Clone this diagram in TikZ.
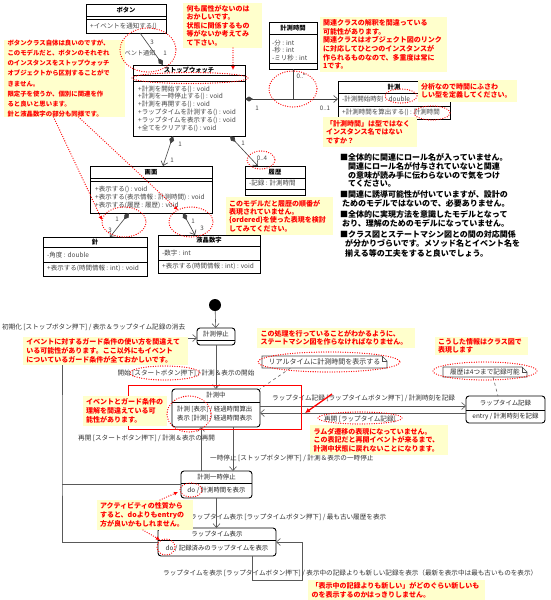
\documentclass[tikz,border=0pt]{standalone}
\usepackage{fontspec}
\setmainfont{Noto Sans CJK JP}
\usetikzlibrary{arrows.meta,calc}
\definecolor{noteY}{RGB}{255,255,204}
\definecolor{txtgray}{RGB}{70,70,70}
\newcommand{\fsz}[2]{\fontsize{#1}{#2}\selectfont}
\tikzset{
 cls/.style={draw=black, line width=0.9pt, fill=white, inner sep=0pt, outer sep=0pt, anchor=north west},
 cdiv/.style={draw=black, line width=0.5pt},
 ctitle/.style={font=\bfseries\fsz{6.3}{7}, inner sep=0pt},
 ctext/.style={font=\fsz{6.5}{7}, text=txtgray, inner sep=0pt, anchor=west},
 mult/.style={font=\fsz{6.2}{7}, text=txtgray, inner sep=0pt},
 assoc/.style={draw=black!75, line width=0.6pt},
 dia/.style={{Diamond[length=8pt,width=5pt]}-{Straight Barb[length=4pt,width=7pt]}},
 note/.style={fill=noteY, text=red, font=\bfseries\fsz{7}{8.4}, anchor=north west, inner sep=0pt, outer sep=0pt, align=left},
 blk/.style={font=\bfseries\fsz{8}{9}, text=black, inner sep=0pt, anchor=west},
 redell/.style={draw=red, line width=1.3pt, dash pattern=on 0pt off 2.4pt, line cap=round},
 redarr/.style={draw=red, line width=1.3pt, dash pattern=on 0pt off 2.4pt, line cap=round, -{Latex[length=4pt,width=4pt]}},
 state/.style={draw=black, line width=0.9pt, rounded corners=3pt, fill=white, inner sep=0pt, outer sep=0pt, anchor=north west},
 stext/.style={font=\fsz{6.4}{7}, text=black!85, inner sep=0pt},
 trans/.style={draw=black!65, line width=0.6pt, -{Straight Barb[length=4pt,width=7pt]}},
 tlabel/.style={font=\fsz{6.6}{7}, text=black!80, inner sep=0pt, anchor=west},
 fnote/.style={fill=white, inner sep=0pt, outer sep=0pt, anchor=north west, font=\fsz{7}{7.5}, text=black!80},
 fold/.style={draw=black!70, line width=0.6pt},
}
\begin{document}
\begin{tikzpicture}[x=1pt,y=-1pt]
\useasboundingbox (0,0) rectangle (550,600);
\fill[white] (0,0) rectangle (550,600);

% ===== class diagram =====
% ボタン
\node[cls, minimum width=80pt, minimum height=29pt] (bt) at (86,4) {};
\node[ctitle] (btt) at (126,10.5) {ボタン};
\draw[cdiv] (86,16) -- (166,16);
\draw[cdiv] (86,19) -- (166,19);
\node[ctext] (bto) at (90,26.5) {+イベントを通知する()};

% ストップウォッチ
\node[cls, minimum width=112pt, minimum height=71pt] (sw) at (133,65) {};
\node[ctitle] (swt) at (189,70.5) {ストップウォッチ};
\draw[cdiv] (133,75.5) -- (245,75.5);
\draw[cdiv] (133,81) -- (245,81);
\node[ctext] (swo1) at (138,89) {+計測を開始する() : void};
\node[ctext] (swo2) at (138,96.8) {+計測を一時停止する() : void};
\node[ctext] (swo3) at (138,104.5) {+計測を再開する() : void};
\node[ctext] (swo4) at (138,112.3) {+ラップタイムを計測する() : void};
\node[ctext] (swo5) at (138,120) {+ラップタイムを表示する() : void};
\node[ctext] (swo6) at (138,128) {+全てをクリアする() : void};

% 計測時間
\node[cls, minimum width=48pt, minimum height=47pt] (kt) at (269,22) {};
\node[ctitle] (ktt) at (293,28) {計測時間};
\draw[cdiv] (269,34) -- (317,34);
\node[ctext] (kta1) at (272,43) {-分 : int};
\node[ctext] (kta2) at (272,50.5) {-秒 : int};
\node[ctext] (kta3) at (272,58) {-ミリ秒 : int};
\draw[cdiv] (269,63) -- (317,63);

% 計測
\node[cls, minimum width=112pt, minimum height=38pt] (km) at (338,81) {};
\node[ctitle] (kmt) at (394,87.5) {計測};
\draw[cdiv] (338,93) -- (450,93);
\node[ctext] (kma) at (342,99.5) {-計測開始時刻 : double};
\draw[cdiv] (338,106) -- (450,106);
\node[ctext] (kmo) at (342,112.5) {+計測時間を算出する() : 計測時間};

% 画面
\node[cls, minimum width=122pt, minimum height=47pt] (gm) at (90,166) {};
\node[ctitle] (gmt) at (151,172) {画面};
\draw[cdiv] (90,178) -- (212,178);
\draw[cdiv] (90,181) -- (212,181);
\node[ctext] (gmo1) at (95,189) {+表示する() : void};
\node[ctext] (gmo2) at (95,197) {+表示する(表示情報 : 計測時間) : void};
\node[ctext] (gmo3) at (95,205) {+表示する(履歴 : 履歴) : void};

% 履歴
\node[cls, minimum width=60pt, minimum height=29pt] (rk) at (245,166) {};
\node[ctitle] (rkt) at (275,172) {履歴};
\draw[cdiv] (245,178) -- (305,178);
\node[ctext] (rka) at (249,183.5) {-記録 : 計測時間};
\draw[cdiv] (245,189) -- (305,189);

% 針
\node[cls, minimum width=104pt, minimum height=39pt] (hr) at (43,237) {};
\node[ctitle] (hrt) at (95,242) {針};
\draw[cdiv] (43,247) -- (147,247);
\node[ctext] (hra) at (47,255.5) {-角度 : double};
\draw[cdiv] (43,262) -- (147,262);
\node[ctext] (hro) at (47,268.5) {+表示する(時間情報 : int) : void};

% 液晶数字
\node[cls, minimum width=102pt, minimum height=38pt] (lc) at (158,235) {};
\node[ctitle] (lct) at (209,240.5) {液晶数字};
\draw[cdiv] (158,246) -- (260,246);
\node[ctext] (lca) at (162,253.5) {-数字 : int};
\draw[cdiv] (158,260) -- (260,260);
\node[ctext] (lco) at (162,266.5) {+表示する(時間情報 : int) : void};

% associations
\draw[assoc, -{Diamond[length=8pt,width=5pt]}] ([xshift=14pt]bt.south) -- ([xshift=-26pt]sw.north);
\node[mult] (m1a) at (152,42) {3};
\node[mult] (m1b) at (165,53) {1};
\node[mult] (m1c) at (137,53) {イベント通知};

\draw[assoc, dia] ([yshift=1.5pt]sw.east) -- ([yshift=1pt]km.west);
\coordinate (aj) at (293,99);
\draw[assoc] (kt.south) -- (aj);
\node[mult] (m2a) at (257,108) {1};
\node[mult] (m2b) at (325,108) {0..1};
\node[mult] (m2c) at (301,76) {0..*};

\draw[assoc, dia] ([xshift=-16pt]sw.south) -- ([xshift=12pt]gm.north);
\node[mult] (m4a) at (180,144) {1};
\node[mult] (m4b) at (172,160) {1};
\draw[assoc, dia] ([xshift=41pt]sw.south) -- ([xshift=-17pt]rk.north);
\node[mult] (m5a) at (243,143) {1};
\node[mult] (m5b) at (262,158) {0..4};
\draw[assoc, dia] ([xshift=-22pt]gm.south) -- ([xshift=15pt]hr.north);
\node[mult] (m6a) at (117,219) {1};
\node[mult] (m6b) at (110,230) {3};
\draw[assoc, dia] ([xshift=32pt]gm.south) -- ([xshift=-14pt]lc.north);
\node[mult] (m7a) at (193,221) {1};
\node[mult] (m7b) at (202,228) {3};

% right text block
\node[blk] (rb1) at (340,157) {■全体的に関連にロール名が入っていません。};
\node[blk] (rb2) at (348,166) {関連にロール名が付与されていないと関連};
\node[blk] (rb3) at (348,175) {の意味が読み手に伝わらないので気をつけ};
\node[blk] (rb4) at (348,184) {てください。};
\node[blk] (rb5) at (340,194) {■関連に誘導可能性が付いていますが、設計の};
\node[blk] (rb6) at (342,203) {ためのモデルではないので、必要ありません。};
\node[blk] (rb7) at (340,214) {■全体的に実現方法を意識したモデルとなって};
\node[blk] (rb8) at (342,223) {おり、理解のためのモデルになっていません。};
\node[blk] (rb9) at (340,234) {■クラス図とステートマシン図との間の対応関係};
\node[blk] (rb10) at (345,243) {が分かりづらいです。メソッド名とイベント名を};
\node[blk] (rb11) at (345,253) {揃える等の工夫をすると良いでしょう。};

% ===== state machine =====
\node[circle, fill=black, minimum size=12pt, inner sep=0pt] (init) at (215,305) {};
\node[state, minimum width=38pt, minimum height=17pt] (s0) at (197,328) {};
\node[stext] (s0t) at (216,334) {計測停止};
\draw[cdiv] (197,340) -- (235,340);

\node[state, minimum width=88pt, minimum height=38pt] (s1) at (172,389) {};
\node[stext] (s1t) at (216,395.5) {計測中};
\draw[cdiv] (172,402) -- (260,402);
\node[stext, anchor=west] (s1a) at (177,409) {計測 [表示] / 経過時間算出};
\node[stext, anchor=west] (s1b) at (177,418) {表示 [計測] / 経過時間表示};

\node[state, minimum width=71pt, minimum height=27pt] (s2) at (181,471) {};
\node[stext] (s2t) at (216.5,477.5) {計測一時停止};
\draw[cdiv] (181,483.5) -- (252,483.5);
\node[stext] (s2a) at (216.5,490.5) {do / 計測時間を表示};

\node[state, minimum width=118pt, minimum height=28pt] (s3) at (158,528) {};
\node[stext] (s3t) at (217,534.5) {ラップタイム表示};
\draw[cdiv] (158,540) -- (276,540);
\node[stext] (s3a) at (217,548) {do / 記録済みのラップタイムを表示};

\node[state, minimum width=79pt, minimum height=27pt] (lr) at (466,396) {};
\node[stext] (lrt) at (505.5,403) {ラップタイム記録};
\draw[cdiv] (466,410) -- (545,410);
\node[stext] (lra) at (505.5,417) {entry / 計測時刻を記録};

% transitions
\draw[trans] (init) -- (s0);
\draw[trans] (s0.south) -- (s1.north);
\node[tlabel, anchor=center] (l1) at (186,373) {開始 [スタートボタン押下] / 計測＆表示の開始};

\path ([yshift=2pt]s1.east) coordinate (t2a);
\draw[trans] (t2a) -- (t2a -| lr.west);
\node[tlabel] (l2) at (272,398) {ラップタイム記録 [ラップタイムボタン押下] / 計測時刻を記録};
\path ([yshift=-3.5pt]lr.west) coordinate (t3a);
\draw[trans] (t3a) -- (t3a -| s1.east);
\node[tlabel, anchor=center] (l3) at (360,419) {再開 [ラップタイム記録]};

\path ([xshift=17pt]s1.south) coordinate (t4a);
\draw[trans] (t4a) -- (t4a |- s2.north);
\node[tlabel] (l4) at (210,458) {一時停止 [ストップボタン押下] / 計測＆表示の一時停止};
\path ([xshift=-15.5pt]s2.north) coordinate (t5a);
\draw[trans] (t5a) -- (t5a |- s1.south);
\node[tlabel] (l5) at (78,438) {再開 [スタートボタン押下] / 計測＆表示の再開};

\draw[trans] (s2.south) -- (s2.south |- s3.north);
\node[tlabel] (l6) at (190,517) {ラップタイム表示 [ラップタイムボタン押下] / 最も古い履歴を表示};

\path ([xshift=-24pt]s3.south east) coordinate (t7a);
\draw[trans] (t7a) -- ++(0,24) -- ++(50,0) |- (s3.east);
\node[tlabel] (l7) at (163,573) {ラップタイムを表示 [ラップタイムボタン押下] / 表示中の記録よりも新しい記録を表示（最新を表示中は最も古いものを表示）};

\coordinate (lpc) at (62,450);
\draw[trans] (s3.west) -| (lpc) |- ([yshift=-1.5pt]s0.west);
\draw[draw=black!65, line width=0.6pt] (s2.west) -- (s2.west -| lpc);
\node[tlabel] (l0) at (2,327) {初期化 [ストップボタン押下] / 表示＆ラップタイム記録の消去};

% folded notes
\node[fnote, minimum width=125pt, minimum height=12pt] (fn1) at (262,356) {リアルタイムに計測時間を表示する};
\draw[fold] (fn1.north west) -- ([xshift=-5pt]fn1.north east) -- ([yshift=-5pt]fn1.north east) -- (fn1.south east) -- (fn1.south west) -- cycle;
\draw[fold] ([xshift=-5pt]fn1.north east) -- ++(0,5) -- ([yshift=-5pt]fn1.north east);
\node[fnote, minimum width=84pt, minimum height=10pt, font=\fsz{6.6}{7}] (fn2) at (443,367) {履歴は4つまで記録可能};
\draw[fold] (fn2.north west) -- ([xshift=-5pt]fn2.north east) -- ([yshift=-5pt]fn2.north east) -- (fn2.south east) -- (fn2.south west) -- cycle;
\draw[fold] ([xshift=-5pt]fn2.north east) -- ++(0,5) -- ([yshift=-5pt]fn2.north east);
\draw[draw=black!60, line width=0.6pt, dashed] ([xshift=-34pt]fn1.south) -- (s1.north east);
\draw[draw=black!60, line width=0.6pt, dashed] ([xshift=8pt]fn2.south) -- ([xshift=-7.5pt]lr.north);

% red solid rectangle
\draw[red, line width=1pt] (128,385) rectangle (301,429);

% ===== notes =====
\node[note, minimum width=121pt, minimum height=73pt, text width=114pt, font=\bfseries\fsz{6.4}{10.1}] (n1) at (4,40) {ボタンクラス自体は良いのですが、\\このモデルだと、ボタンのそれぞれ\\のインスタンスをストップウォッチ\\オブジェクトから区別することがで\\きません。\\限定子を使うか、個別に関連を作\\ると良いと思います。\\針と液晶数字の部分も同様です。};
\node[note, minimum width=79pt, minimum height=45pt, text width=72pt] (n2) at (183,3) {何も属性がないのは\\おかしいです。\\状態に関係するもの\\等がないか考えてみ\\て下さい。};
\node[note, minimum width=127pt, minimum height=55pt, text width=121pt, font=\bfseries\fsz{7}{8.6}] (n3) at (320,17) {関連クラスの解釈を間違っている\\可能性があります。\\関連クラスはオブジェクト図のリンク\\に対応してひとつのインスタンスが\\作られるものなので、多重度は常に\\1です。};
\node[note, minimum width=99pt, minimum height=22pt, text width=93pt] (n4) at (418,80) {分析なので時間にふさわ\\しい型を定義してください。};
\node[note, minimum width=94pt, minimum height=30pt, text width=88pt] (n5) at (323,117) {「計測時間」は型ではなく\\インスタンス名ではない\\ですか？};
\node[note, minimum width=107pt, minimum height=38pt, text width=101pt] (n6) at (226,197) {このモデルだと履歴の順番が\\表現されていません。\\\{ordered\}を使った表現を検討\\してみてください。};
\node[note, minimum width=165pt, minimum height=28pt, text width=158pt, font=\bfseries\fsz{7}{9}] (n7) at (23,337) {イベントに対するガード条件の使い方を間違えて\\いる可能性があります。ここ以外にもイベント\\についているガード条件が全ておかしいです。};
\node[note, minimum width=158pt, minimum height=20pt, text width=151pt, font=\bfseries\fsz{7}{8}] (n8) at (257,328) {この処理を行っていることがわかるように、\\ステートマシン図を作らなければなりません。};
\node[note, minimum width=84pt, minimum height=30pt, text width=78pt, font=\bfseries\fsz{7}{9}] (n9) at (83,396) {イベントとガード条件の\\理解を間違えている可\\能性があります。};
\node[note, minimum width=138pt, minimum height=30pt, text width=131pt, font=\bfseries\fsz{7}{8.7}] (n10) at (310,425) {ラムダ遷移の表現になっていません。\\この表記だと再開イベントが来るまで、\\計測中状態に戻れないことになります。};
\node[note, minimum width=93pt, minimum height=18pt, text width=87pt, font=\bfseries\fsz{7}{8}] (n11) at (435,337) {こうした情報はクラス図で\\表現します};
\node[note, minimum width=96pt, minimum height=30pt, text width=90pt, font=\bfseries\fsz{7}{9}] (n12) at (97,500) {アクティビティの性質から\\すると、doよりもentryの\\方が良いかもしれません。};
\node[note, minimum width=177pt, minimum height=20pt, text width=170pt, font=\bfseries\fsz{7}{9}] (n13) at (308,580) {「表示中の記録よりも新しい」がどのぐらい新しいも\\のを表示するのかはっきりしません。};

% ===== red marks =====
\draw[redell] (148,50) ellipse [x radius=28, y radius=22];
\draw[redell] (190,78) ellipse [x radius=58, y radius=5.5];
\draw[redell] (293,89) ellipse [x radius=24, y radius=18];
\draw[redell] (401,96) ellipse [x radius=16, y radius=7];
\draw[redell] (432,113) ellipse [x radius=18, y radius=7];
\draw[redell] (261,160) ellipse [x radius=14, y radius=9];
\draw[redell] (124,222) ellipse [x radius=22, y radius=15];
\draw[redell] (191,222) ellipse [x radius=22, y radius=15];
\draw[redell] (165,373) ellipse [x radius=35, y radius=7];
\draw[redell] (189,414) ellipse [x radius=22, y radius=18];
\draw[redell] (360,418) ellipse [x radius=42, y radius=6];
\draw[redell] (329,362) ellipse [x radius=71, y radius=10];
\draw[redell] (485,371) ellipse [x radius=52, y radius=9];
\draw[redell] (191,490) ellipse [x radius=11, y radius=7];
\draw[redell] (166,547) ellipse [x radius=9, y radius=8];

\coordinate (r1e) at (233,70);
\draw[redarr] ([xshift=10.5pt]n2.south) -- (r1e);
\coordinate (r2e) at (102,220);
\draw[redarr] ([xshift=-11pt]n1.south) -- (r2e);
\coordinate (r3e) at (178,210);
\draw[redarr] ([xshift=14pt]n1.south) -- (r3e);
\coordinate (r4e) at (178,492);
\draw[redarr] ([xshift=15pt]n12.north) -- (r4e);
\coordinate (r5e) at (160,540);
\draw[redarr] ([xshift=-2pt]n12.south) -- (r5e);

\coordinate (rsa) at (332,394);
\coordinate (rsb) at (305,413);
\draw[red, line width=1.3pt, -{Latex[length=5pt,width=5pt]}] (rsa) -- (rsb);
\end{tikzpicture}
\end{document}
